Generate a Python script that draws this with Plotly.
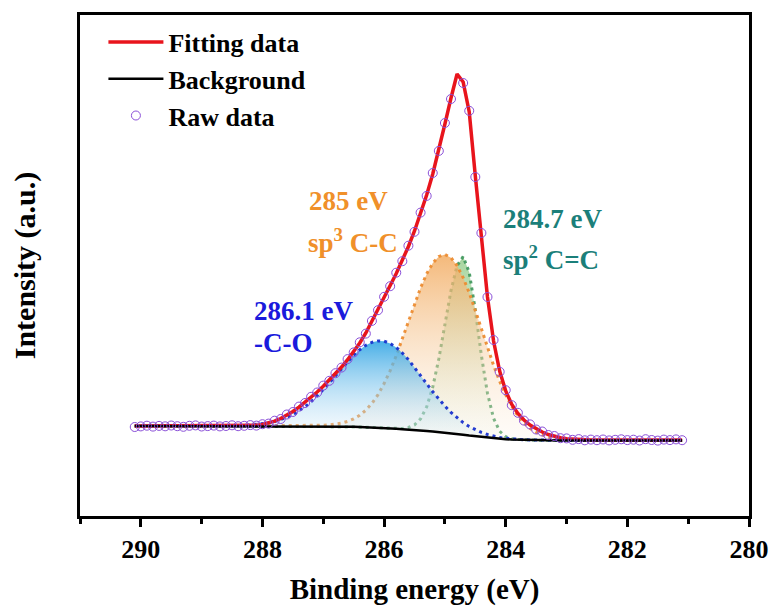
import plotly.graph_objects as go

# Binding energy grid (eV), 290.1 -> 281.1 step 0.1
energy = [round(290.1 - 0.1 * i, 1) for i in range(91)]

raw_data = [89.0, 89.6, 90.3, 89.4, 90.1, 89.7, 90.5, 89.8, 89.2, 90.2,
            90.6, 89.5, 89.9, 90.4, 89.6, 90.0, 90.7, 89.8, 90.2, 90.9,
            90.4, 91.8, 92.4, 95.3, 97.0, 101.5, 104.0, 109.4, 113.0, 119.2,
            123.5, 130.4, 135.2, 142.8, 148.4, 156.9, 163.6, 173.7, 182.4, 195.1,
            205.8, 219.2, 229.8, 243.3, 254.8, 270.3, 284.2, 303.4, 320.1, 343.0,
            365.1, 393.0, 417.0, None, 433.0, 405.2, 339.0, 283.0, 219.0, 176.0,
            144.2, 125.8, 110.8, 103.2, 95.4, 91.6, 86.5, 84.5, 81.0, 80.0,
            77.8, 77.6, 76.2, 76.9, 75.7, 76.4, 75.8, 76.5, 75.6, 76.2,
            76.7, 75.9, 76.3, 75.5, 76.8, 76.0, 75.4, 76.4, 75.9, 76.6,
            75.8]

fitting = [90.0] * 19 + [
    90.3, 90.8, 91.5, 92.8, 94.8, 97.5, 100.8, 104.6, 108.8, 113.5,
    118.6, 124.0, 129.8, 135.8, 142.2, 149.0, 156.3, 164.2, 173.0, 183.0,
    194.5, 206.5, 218.5, 230.5, 242.5, 255.5, 269.5, 285.0, 302.5, 321.0,
    342.0, 366.0, 392.0, 418.0, 442.0, 434.0, 404.0, 340.0, 282.0, 219.0,
    175.0, 145.0, 125.0, 111.5, 102.5, 96.0, 91.0, 87.0, 84.0, 81.5,
    79.5, 78.2, 77.3, 76.8, 76.4, 76.1] + [76.0] * 16

background = [90.0] * 30 + [
    90.0, 90.0, 89.9, 89.8, 89.7, 89.5, 89.3, 89.0, 88.8, 88.5,
    88.3, 88.0, 87.6, 87.2, 86.8, 86.5, 86.0, 85.5, 85.0, 84.5,
    84.0, 83.5, 82.8, 82.0, 81.3, 80.5, 79.8, 79.0, 78.3, 77.5,
    77.0, 76.8, 76.5, 76.3, 76.1, 76.0, 75.9, 75.8, 75.7, 75.7] + [75.6] * 21

# Peak components (height above background)
peak_286_1 = [0.0] * 15 + [
    0.1, 0.2, 0.4, 0.6, 1.0, 1.5, 2.2, 3.2, 4.5, 6.3,
    8.6, 11.4, 15.0, 19.3, 24.3, 30.0, 36.5, 43.3, 50.6, 57.9,
    65.0, 71.6, 77.3, 81.9, 85.2, 86.8, 86.8, 84.9, 81.3, 76.2,
    69.9, 62.7, 55.1, 47.3, 39.8, 32.8, 26.4, 20.8, 16.1, 12.1,
    9.0, 6.5, 4.6, 3.2, 2.1, 1.4, 0.9, 0.6, 0.4, 0.2,
    0.1] + [0.0] * 25

peak_285 = [0.0] * 28 + [
    0.1, 0.2, 0.4, 0.7, 1.2, 2.0, 3.2, 5.1, 7.8, 11.7,
    17.0, 24.1, 33.1, 44.4, 57.8, 73.2, 90.1, 108.0, 125.8, 142.6,
    157.1, 168.4, 175.5, 178.0, 175.5, 168.4, 157.1, 142.6, 125.8, 108.0,
    90.1, 73.2, 57.8, 44.4, 33.1, 24.1, 17.0, 11.7, 7.8, 5.1,
    3.2, 2.0, 1.2, 0.7, 0.4, 0.2, 0.1] + [0.0] * 16

peak_284_7 = [0.0] * 42 + [
    0.1, 0.2, 0.7, 2.0, 5.1, 11.7, 24.1, 44.4, 73.2, 108.0,
    142.6, 168.4, 178.0, 163.2, 125.8, 81.5, 44.4, 20.3, 7.8, 2.5,
    0.7, 0.2] + [0.0] * 27

tick_values = [290, 288, 286, 284, 282, 280]
minor_tick_values = [291, 289, 287, 285, 283, 281]

FONT = "Liberation Serif"

fig = go.Figure()

components = [
    (peak_284_7, "rgba(60,150,90,0.9)",
     [[0, "rgba(235,245,230,0.15)"], [1, "rgba(150,205,140,0.85)"]]),
    (peak_285, "rgba(236,140,50,0.95)",
     [[0, "rgba(252,240,225,0.2)"], [1, "rgba(242,172,98,0.85)"]]),
    (peak_286_1, "rgba(25,50,205,0.95)",
     [[0, "rgba(225,240,250,0.2)"], [1, "rgba(50,165,228,0.9)"]]),
]

for comp, lcol, cscale in components:
    envelope = [b + c for b, c in zip(background, comp)]
    fig.add_trace(go.Scatter(x=energy, y=background, mode="lines",
                             line=dict(width=0), showlegend=False,
                             hoverinfo="skip"))
    fig.add_trace(go.Scatter(x=energy, y=envelope, mode="lines",
                             line=dict(color=lcol, width=3, dash="3px,4px"),
                             fill="tonexty",
                             fillgradient=dict(type="vertical", colorscale=cscale),
                             showlegend=False))

fig.add_trace(go.Scatter(x=energy, y=fitting, mode="lines", name="<b>Fitting data</b>",
                         line=dict(color="#e8141c", width=3.5), legendrank=1))
fig.add_trace(go.Scatter(x=energy, y=background, mode="lines", name="<b>Background</b>",
                         line=dict(color="black", width=2.5), legendrank=2))
fig.add_trace(go.Scatter(x=energy, y=raw_data, mode="markers", name="<b>Raw data</b>",
                         marker=dict(symbol="circle-open", size=9, color="#8a4fd8",
                                     line=dict(width=1)),
                         legendrank=3))

ann = [
    ("285 eV", 287.27, 315, "#f0902a"),
    ("sp<sup>3</sup> C-C", 287.28, 275, "#f0902a"),
    ("284.7 eV", 284.08, 297, "#1b7f7a"),
    ("sp<sup>2</sup> C=C", 284.08, 258, "#1b7f7a"),
    ("286.1 eV", 288.17, 205, "#1a1adc"),
    ("-C-O", 288.17, 173, "#1a1adc"),
]
for txt, xx, yy, col in ann:
    fig.add_annotation(x=xx, y=yy, text="<b>" + txt + "</b>", showarrow=False,
                       xanchor="left", yanchor="middle",
                       font=dict(family=FONT, size=27, color=col))

# page body has an 8px margin: figure is sized so that the page fits the window
fig.update_layout(
    width=761, height=598,
    margin=dict(l=72, r=20, t=7, b=90),
    plot_bgcolor="white", paper_bgcolor="white",
    font=dict(family=FONT, color="black"),
    showlegend=True,
    legend=dict(x=0.035, y=0.993, xanchor="left", yanchor="top",
                traceorder="normal", itemwidth=55,
                bgcolor="rgba(0,0,0,0)",
                font=dict(family=FONT, size=26, color="black"),
                tracegroupgap=0),
)
fig.update_xaxes(range=[291, 280], showgrid=False, zeroline=False, automargin=False,
                 showline=True, linecolor="black", linewidth=3, mirror=True,
                 tickmode="array", tickvals=tick_values,
                 ticktext=["<b>%d</b>" % v for v in tick_values],
                 ticks="outside", ticklen=8, tickwidth=2.5, tickcolor="black",
                 minor=dict(tickvals=minor_tick_values, ticks="outside",
                            ticklen=5, tickwidth=2.5, tickcolor="black"),
                 tickfont=dict(family=FONT, size=26, color="black"),
                 title=dict(text="<b>Binding energy (eV)</b>",
                            font=dict(family=FONT, size=29, color="black"),
                            standoff=21))
fig.update_yaxes(range=[0, 501], showgrid=False, zeroline=False, automargin=False,
                 showline=True, linecolor="black", linewidth=3, mirror=True,
                 showticklabels=False, ticks="",
                 title=dict(text="<b>Intensity (a.u.)</b>",
                            font=dict(family=FONT, size=30, color="black"),
                            standoff=34))

fig.write_html("out.html")
